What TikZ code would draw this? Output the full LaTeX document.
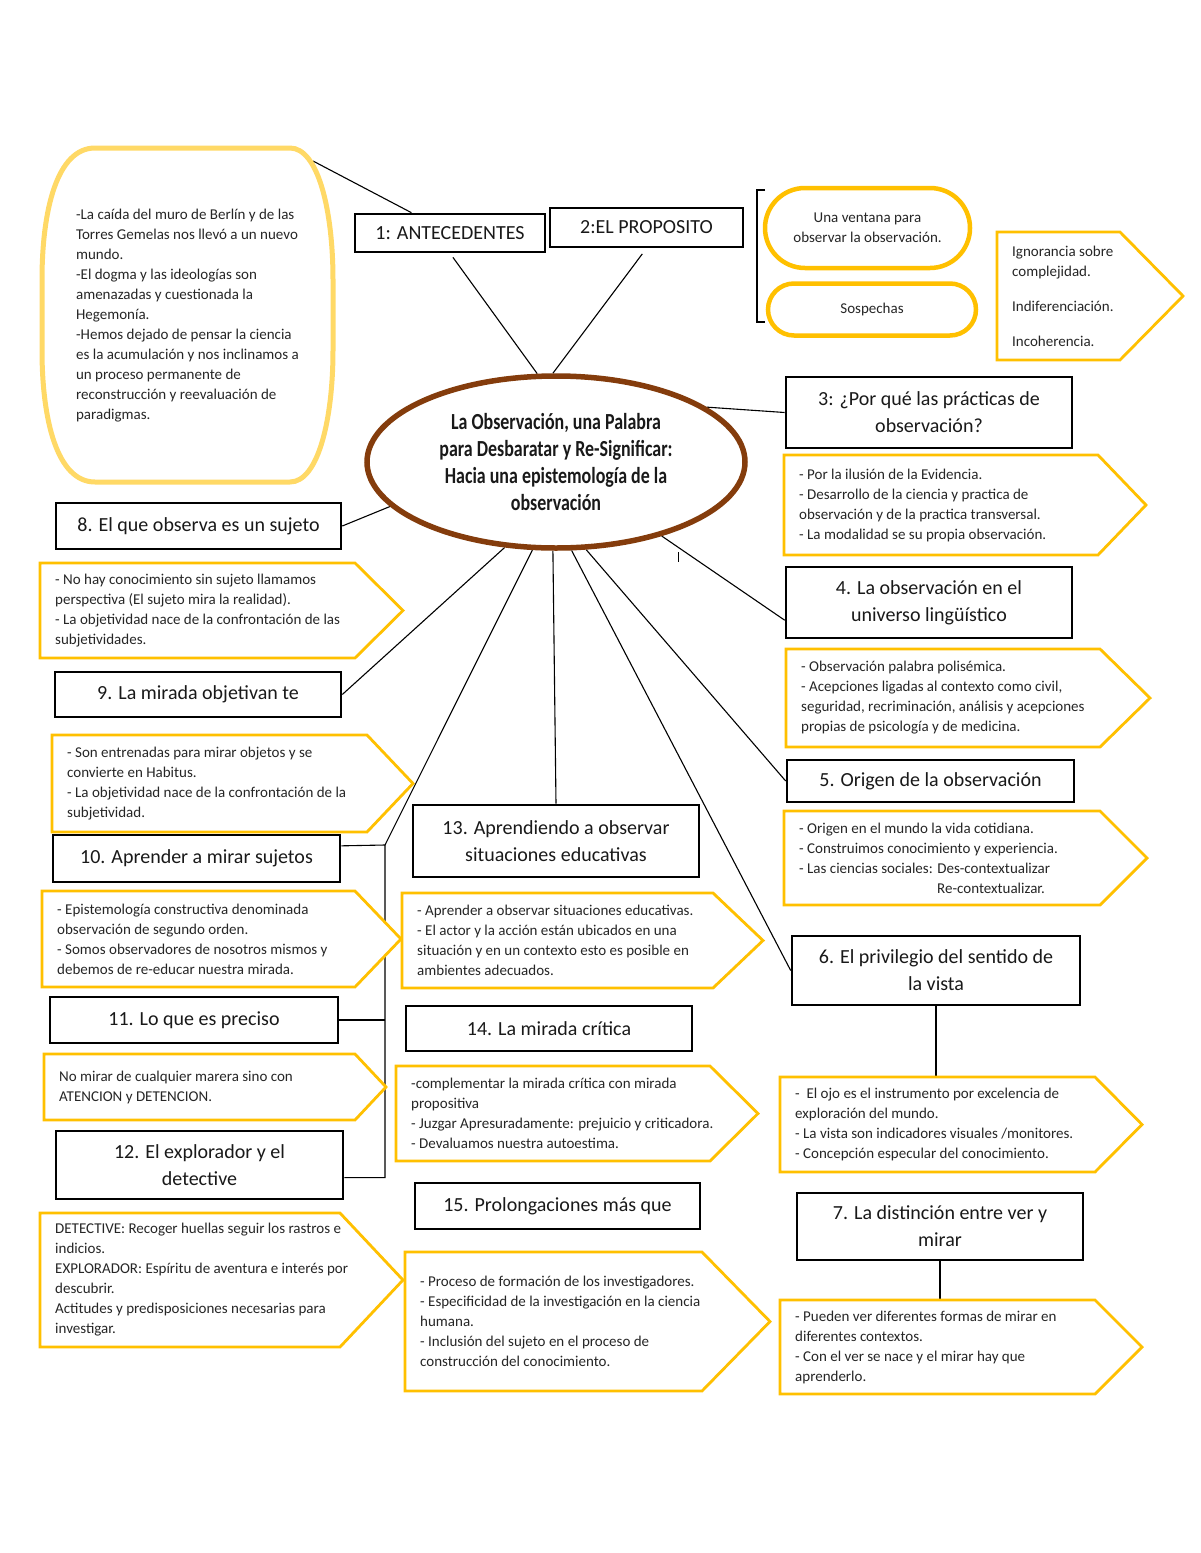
\documentclass[tikz,border=0pt]{standalone}
\usepackage{fontspec}
\setmainfont{Carlito}
\newfontfamily\ctitle[FakeStretch=0.78]{Carlito}
\usetikzlibrary{shapes.geometric,shapes.misc,calc}
\definecolor{gold}{HTML}{FFC000}
\definecolor{lgold}{HTML}{FFD966}
\definecolor{brownc}{HTML}{843C0C}
\definecolor{txt}{HTML}{262626}
\pgfdeclarelayer{bg}
\pgfsetlayers{bg,main}
\tikzset{
  tbox/.style={draw=black, line width=2.6pt, fill=white, align=center, inner sep=0pt,
    font=\fontsize{20}{27}\selectfont, text=black!90},
  conn/.style={draw=black, line width=1.1pt},
  ptext/.style={anchor=west, align=left, inner sep=0pt, font=\fontsize{15}{20}\selectfont, text=txt},
  pentline/.style={draw=gold, line width=2.8pt, fill=white, line join=miter},
  pill/.style={rounded rectangle, draw=gold, line width=4.5pt, fill=white, align=center,
    inner sep=0pt, font=\fontsize{15}{20}\selectfont, text=txt},
}
% name, xleft, ytop, xright, xtip, ybottom, text
\newcommand{\pentagon}[7]{%
  \filldraw[pentline] (#2,#3) -- (#4,#3) -- (#5,{(#3+#6)/2}) -- (#4,#6) -- (#2,#6) -- cycle;
  \node[ptext] (#1) at ({#2+15},{(#3+#6)/2}) {#7};
  \coordinate (#1n) at ({(#2+#4)/2},#3);
}
\begin{document}
\begin{tikzpicture}[x=1pt,y=-1pt]
\useasboundingbox (0,0) rectangle (1200,1553);

% antecedentes oval
\draw[lgold, line width=5pt, fill=white]
  (95,148) -- (290,148) .. controls (318,148) and (333,210) .. (333,280) -- (333,350)
  .. controls (333,420) and (318,482) .. (290,482) -- (95,482)
  .. controls (57,482) and (42,420) .. (42,350) -- (42,280)
  .. controls (42,210) and (57,148) .. (95,148) -- cycle;
\node[align=left, inner sep=0pt, font=\fontsize{15}{20}\selectfont, text=txt] (ant) at (187.5,316)
 {-La caída del muro de Berlín y de las\\Torres Gemelas nos llevó a un nuevo\\mundo.\\-El dogma y las ideologías son\\amenazadas y cuestionada la\\Hegemonía.\\-Hemos dejado de pensar la ciencia\\es la acumulación y nos inclinamos a\\un proceso permanente de\\reconstrucción y reevaluación de\\paradigmas.};
\coordinate (antc) at (313,161);

% top boxes
\node[tbox, minimum width=190, minimum height=38] (b1) at (450,233) {1: ANTECEDENTES};
\node[tbox, minimum width=193, minimum height=39] (b2) at (646.5,227.5) {2:EL PROPOSITO};

% bracket and pills
\draw[line width=1.8pt] (765,190) -- (757,190) -- (757,322) -- (765,322);
\node[pill, minimum width=205, minimum height=80] (pl1) at (867.5,228) {Una ventana para\\observar la observación.};
\node[pill, minimum width=208, minimum height=52] (pl2) at (872,309.5) {Sospechas};
\pentagon{pA}{997}{232}{1120}{1183}{360}{Ignorancia sobre\\complejidad.\\[15pt]Indiferenciación.\\[15pt]Incoherencia.}

% central ellipse
\node[ellipse, draw=brownc, line width=5.5pt, fill=white, minimum width=378, minimum height=172,
  inner sep=0pt, align=center, font=\ctitle\bfseries\fontsize{23}{27}\selectfont, text=black!90] (ell) at (556,462)
 {La Observación, una Palabra\\para Desbaratar y Re-Significar:\\Hacia una epistemología de la\\observación};

% right column
\node[tbox, minimum width=286, minimum height=71] (b3) at (929,412.5) {3: ¿Por qué las prácticas de\\observación?};
\pentagon{p3}{784}{455}{1098}{1146}{555}{- Por la ilusión de la Evidencia.\\- Desarrollo de la ciencia y practica de\\observación y de la practica transversal.\\- La modalidad se su propia observación.}
\node[tbox, minimum width=286, minimum height=71] (b4) at (929,602.5) {4. La observación en el\\universo lingüístico};
\pentagon{p4}{786}{649}{1100}{1150}{747}{- Observación palabra polisémica.\\- Acepciones ligadas al contexto como civil,\\seguridad, recriminación, análisis y acepciones\\propias de psicología y de medicina.}
\node[tbox, minimum width=287, minimum height=42] (b5) at (930.5,781) {5. Origen de la observación};
\pentagon{p5}{784}{811}{1100}{1147}{905}{- Origen en el mundo la vida cotidiana.\\- Construimos conocimiento y experiencia.\\- Las ciencias sociales: Des-contextualizar\\\hspace*{138pt}Re-contextualizar.}
\node[tbox, minimum width=288, minimum height=69] (b6) at (936,970.5) {6. El privilegio del sentido de\\la vista};
\pentagon{p6}{780}{1077}{1095}{1142}{1172}{-\ \ El ojo es el instrumento por excelencia de\\exploración del mundo.\\- La vista son indicadores visuales /monitores.\\- Concepción especular del conocimiento.}
\node[tbox, minimum width=286, minimum height=67] (b7) at (940,1226.5) {7. La distinción entre ver y\\mirar};
\pentagon{p7}{780}{1300}{1095}{1142}{1394}{- Pueden ver diferentes formas de mirar en\\diferentes contextos.\\- Con el ver se nace y el mirar hay que\\aprenderlo.}

% left column
\node[tbox, minimum width=285, minimum height=46] (b8) at (198.5,526) {8. El que observa es un sujeto};
\pentagon{p8}{40}{563}{355}{403}{658}{- No hay conocimiento sin sujeto llamamos\\perspectiva (El sujeto mira la realidad).\\- La objetividad nace de la confrontación de las\\subjetividades.}
\node[tbox, minimum width=286, minimum height=45] (b9) at (198,694.5) {9. La mirada objetivan te};
\pentagon{p9}{52}{735}{367}{413}{832}{- Son entrenadas para mirar objetos y se\\convierte en Habitus.\\- La objetividad nace de la confrontación de la\\subjetividad.}
\node[tbox, minimum width=287, minimum height=47] (b10) at (196.5,858.5) {10. Aprender a mirar sujetos};
\node[tbox, minimum width=288, minimum height=46] (b11) at (194,1020) {11. Lo que es preciso};
\node[tbox, minimum width=287, minimum height=68] (b12) at (199.5,1165) {12. El explorador y el\\detective};
\coordinate (brtop) at (385,845);

% middle column boxes
\node[tbox, minimum width=286, minimum height=72] (b13) at (556,841) {13. Aprendiendo a observar\\situaciones educativas};
\node[tbox, minimum width=286, minimum height=45] (b14) at (549,1028.5) {14. La mirada crítica};
\node[tbox, minimum width=285, minimum height=46] (b15) at (557.5,1206) {15. Prolongaciones más que};

% background and connectors (background layer)
\begin{pgfonlayer}{bg}
\fill[white] (0,0) rectangle (1200,1553);
\draw[conn] (antc) -- ($(b1.north west)!0.3!(b1.north east)$);
\draw[conn, shorten <=5pt] (b1.south) -- (ell.102);
\draw[conn, shorten <=7pt] (b2.south) -- (ell.92);
\draw[conn] (ell.20) -- (b3.west);
\draw[conn] (ell.325) -- (b4.187);
\draw[conn] (ell.289) -- (b5.west);
\draw[conn] (ell.280) -- (b6.west);
\draw[conn] (ell.268) -- (b13.north);
\draw[conn] (ell.239) -- (b9.east);
\draw[conn] (ell.195) -- (b8.east);
\draw[conn] (ell.255) -- (brtop);
\draw[conn] (b10.5) -- (brtop) -- (brtop |- b12.-5) -- (b12.-5);
\draw[conn] (b11.east) -- (b11.east -| brtop);
\draw[conn] (b6.south) -- (b6.south |- p6n);
\draw[conn] (b7.south) -- (b7.south |- p7n);
\draw[line width=0.8pt] (678,552) -- (678,562);
\end{pgfonlayer}

\pentagon{p10}{42}{891}{355}{401}{987}{- Epistemología constructiva denominada\\observación de segundo orden.\\- Somos observadores de nosotros mismos y\\debemos de re-educar nuestra mirada.}
\pentagon{p11}{44}{1054}{355}{386}{1120}{No mirar de cualquier marera sino con\\ATENCION y DETENCION.}
\pentagon{p12}{40}{1213}{340}{403}{1347}{DETECTIVE: Recoger huellas seguir los rastros e\\indicios.\\EXPLORADOR: Espíritu de aventura e interés por\\descubrir.\\Actitudes y predisposiciones necesarias para\\investigar.}

\pentagon{p13}{402}{893}{713}{763}{988}{- Aprender a observar situaciones educativas.\\- El actor y la acción están ubicados en una\\situación y en un contexto esto es posible en\\ambientes adecuados.}
\pentagon{p14}{396}{1066}{710}{758}{1161}{-complementar la mirada crítica con mirada\\propositiva\\- Juzgar Apresuradamente: prejuicio y criticadora.\\- Devaluamos nuestra autoestima.}
\pentagon{p15}{405}{1252}{702}{770}{1391}{- Proceso de formación de los investigadores.\\- Especificidad de la investigación en la ciencia\\humana.\\- Inclusión del sujeto en el proceso de\\construcción del conocimiento.}
\end{tikzpicture}
\end{document}
